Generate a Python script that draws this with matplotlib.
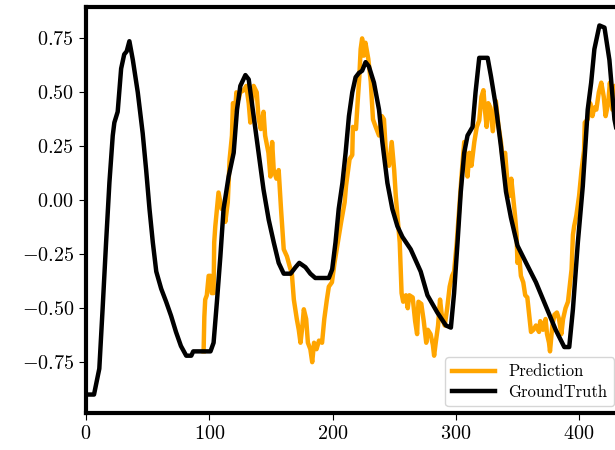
import matplotlib
matplotlib.use("Agg")
import matplotlib.pyplot as plt

plt.rcParams.update({
    "font.family": "serif",
    "font.serif": ["cmr10"],
    "mathtext.fontset": "cm",
    "axes.formatter.use_mathtext": True,
    "axes.unicode_minus": True,
})

# Ground truth series (time step, value)
gt_x = [0, 6.5, 10.8, 13.5, 16.3, 19, 21.7, 23, 25.7, 28.5, 31, 33, 35.2, 38, 42, 46,
        48.8, 51.5, 54.2, 57, 61, 65, 69, 73, 77, 81.3, 85.4, 87, 101, 103.5, 106.2,
        109, 111.6, 115.7, 119.8, 122.5, 125.2, 129.3, 132, 136, 140, 144, 148.2,
        152.3, 156.3, 160.4, 166, 170, 173, 178, 182, 186, 197, 199.7, 202.4, 205,
        208, 210.6, 213.3, 216, 218.7, 221.4, 224, 226.8, 229.5, 233.6, 237.7, 240.4,
        244.5, 248.5, 252.6, 256.7, 263.4, 271.5, 277, 285, 292, 296, 298.6, 301.4,
        304, 306.8, 309.5, 313.6, 316, 319, 325.8, 328.5, 332.5, 336.6, 340.7, 344.7,
        350, 357, 365, 373, 381, 388, 392, 395, 399, 403, 407, 409.8, 412.4, 416.5,
        420.6, 424.6, 428.7, 432]
gt_y = [-0.90, -0.90, -0.78, -0.50, -0.195, 0.083, 0.30, 0.36, 0.41, 0.61, 0.676, 0.69,
        0.737, 0.65, 0.50, 0.31, 0.14, -0.04, -0.195, -0.33, -0.41, -0.47, -0.535,
        -0.61, -0.675, -0.72, -0.72, -0.70, -0.70, -0.66, -0.47, -0.26, -0.04, 0.11,
        0.22, 0.42, 0.53, 0.58, 0.56, 0.39, 0.22, 0.05, -0.09, -0.195, -0.29, -0.34,
        -0.34, -0.31, -0.29, -0.31, -0.34, -0.36, -0.36, -0.32, -0.195, -0.04, 0.08,
        0.22, 0.39, 0.50, 0.57, 0.59, 0.60, 0.64, 0.62, 0.545, 0.42, 0.27, 0.08,
        -0.04, -0.12, -0.17, -0.227, -0.33, -0.44, -0.52, -0.58, -0.59, -0.43, -0.195,
        0.037, 0.22, 0.30, 0.34, 0.50, 0.66, 0.66, 0.575, 0.435, 0.25, 0.04, -0.08,
        -0.21, -0.29, -0.38, -0.49, -0.60, -0.68, -0.68, -0.505, -0.195, 0.065, 0.42,
        0.545, 0.70, 0.81, 0.80, 0.65, 0.375, 0.28]

# Model prediction series (time step, value)
pred_x = [95.4, 96, 96.7, 98, 99.5, 101, 102, 103.5, 104, 104.9, 106.2, 107.5, 109, 110,
          111.6, 113, 115, 116.5, 118.4, 119.2, 121, 122, 124, 125, 128, 130, 132,
          133.3, 134.6, 136, 138.5, 140, 141.8, 144, 145.3, 148, 149.6, 151, 152.3,
          154.5, 156.3, 158.2, 160.4, 163, 165.4, 167, 168.6, 171, 172.6, 174, 175.6,
          176.7, 178.6, 180, 182, 183.5, 185, 187, 189, 191.5, 193.3, 195.4, 197, 199.5,
          201.6, 204.3, 207, 209.8, 211, 213.8, 216, 216.5, 219, 220.3, 221.7, 222.8,
          224, 225.3, 226.7, 229, 231, 232.8, 235, 237.7, 240, 241.7, 243.6, 245.8, 248,
          250, 251.3, 252.6, 254.5, 256, 257.3, 259.5, 261, 262.3, 265, 267, 268.6,
          269.7, 272, 274, 276, 277.3, 279.5, 281.4, 282.4, 283.7, 285.6, 287.2, 289,
          291, 293, 295, 297, 298.6, 300.8, 302.7, 304.6, 306.8, 308, 309.5, 311, 312.7,
          315, 317, 319, 320.8, 322.4, 323.6, 325, 326.3, 328, 330, 332.5, 334.5, 336.6,
          338, 340, 341.5, 343.5, 345, 346.6, 348, 349.3, 350, 351.5, 352.8, 354.7,
          356.3, 358, 359.5, 361, 363, 365, 367.5, 368.5, 370.7, 372.8, 374, 375.6,
          376.4, 378.3, 380, 382, 383.7, 385.6, 387, 389, 391, 393.9, 395, 396, 397.8,
          400, 402, 404, 404.6, 407, 409, 410.8, 412.4, 414, 416, 418, 420, 421.5, 423.6,
          425, 427, 429, 430, 432]
pred_y = [-0.70, -0.54, -0.46, -0.44, -0.35, -0.35, -0.43, -0.43, -0.195, -0.12, -0.04,
          0.036, -0.01, -0.04, -0.04, -0.10, -0.01, 0.19, 0.30, 0.45, 0.42, 0.50, 0.47,
          0.50, 0.51, 0.53, 0.45, 0.36, 0.45, 0.53, 0.50, 0.38, 0.33, 0.41, 0.30, 0.22,
          0.11, 0.27, 0.14, 0.10, 0.14, -0.04, -0.227, -0.26, -0.31, -0.34, -0.46, -0.55,
          -0.60, -0.66, -0.58, -0.505, -0.55, -0.66, -0.69, -0.75, -0.66, -0.69, -0.65,
          -0.66, -0.55, -0.46, -0.40, -0.38, -0.29, -0.195, -0.10, -0.01, 0.07, 0.19,
          0.21, 0.34, 0.33, 0.45, 0.57, 0.70, 0.75, 0.67, 0.73, 0.655, 0.55, 0.375, 0.34,
          0.30, 0.39, 0.375, 0.19, 0.16, 0.27, 0.14, 0.02, -0.07, -0.195, -0.43, -0.47,
          -0.44, -0.50, -0.44, -0.45, -0.56, -0.62, -0.47, -0.48, -0.56, -0.66, -0.60,
          -0.62, -0.67, -0.72, -0.66, -0.58, -0.46, -0.55, -0.58, -0.50, -0.40, -0.35,
          -0.33, -0.195, -0.04, 0.11, 0.27, 0.19, 0.11, 0.22, 0.16, 0.27, 0.34, 0.37,
          0.48, 0.51, 0.42, 0.34, 0.45, 0.43, 0.32, 0.46, 0.35, 0.27, 0.19, 0.22, 0.11,
          0.02, 0.10, 0.01, -0.07, -0.16, -0.29, -0.26, -0.35, -0.38, -0.44, -0.45,
          -0.53, -0.61, -0.60, -0.58, -0.61, -0.56, -0.60, -0.55, -0.62, -0.66, -0.70,
          -0.58, -0.53, -0.52, -0.55, -0.62, -0.55, -0.50, -0.47, -0.32, -0.16, -0.12,
          -0.07, 0.02, 0.14, 0.23, 0.36, 0.375, 0.45, 0.39, 0.43, 0.42, 0.50, 0.545,
          0.48, 0.39, 0.45, 0.545, 0.42, 0.53, 0.48, 0.35]

fig = plt.figure(figsize=(6.15, 4.5), dpi=100)
ax = fig.add_axes([86 / 615, 37 / 450, 535 / 615, 406 / 450])

ax.plot(pred_x, pred_y, color="orange", lw=3.2, label="Prediction")
ax.plot(gt_x, gt_y, color="black", lw=3.2, label="GroundTruth")

ax.set_xlim(0, 434)
ax.set_xticks([0, 100, 200, 300, 400])
ax.set_yticks([-0.75, -0.5, -0.25, 0.0, 0.25, 0.5, 0.75])
ax.tick_params(labelsize=14.5, length=5, width=0.8)
for sp in ax.spines.values():
    sp.set_linewidth(3)

ax.legend(loc="lower right", fontsize=12, handlelength=2.6,
          borderaxespad=0.4, labelspacing=0.3)

fig.savefig("out.png", dpi=100)
